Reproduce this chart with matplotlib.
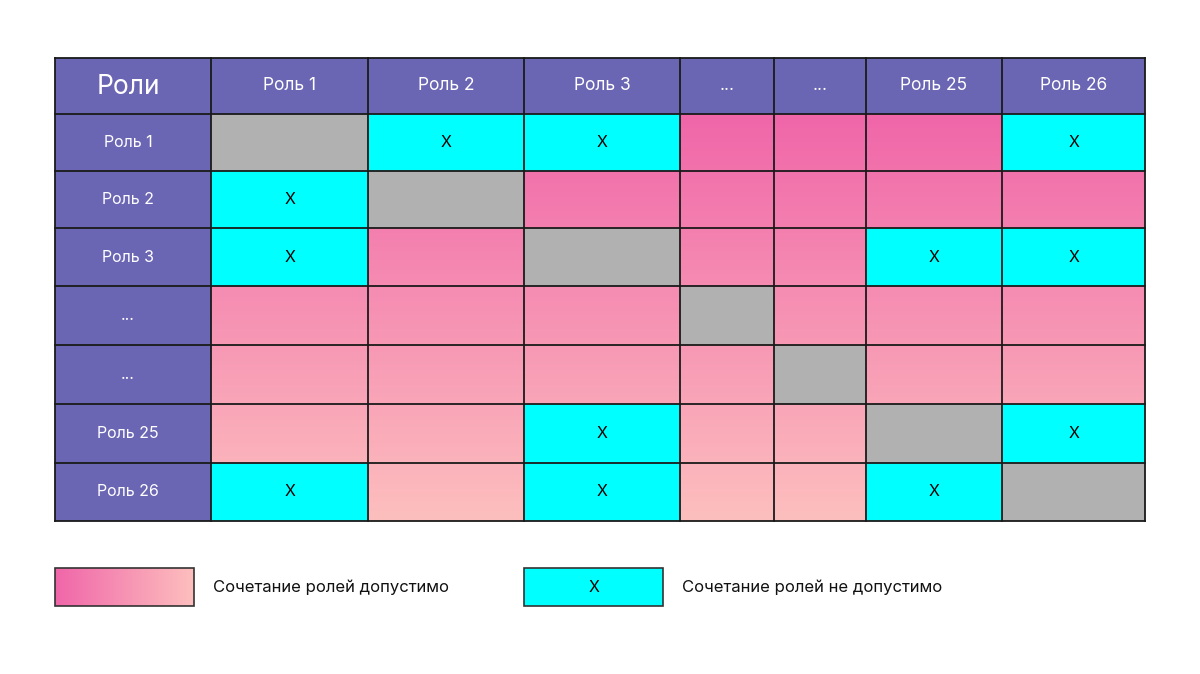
import numpy as np
import matplotlib.pyplot as plt
from matplotlib.colors import LinearSegmentedColormap
from matplotlib.patches import Rectangle

# --- data ---
corner_label = 'Роли'
roles = ['Роль 1', 'Роль 2', 'Роль 3', '...', '...', 'Роль 25', 'Роль 26']
# 0 = allowed (gradient), 1 = not allowed (X), 2 = same role (gray)
matrix = [
    [2, 1, 1, 0, 0, 0, 1],
    [1, 2, 0, 0, 0, 0, 0],
    [1, 0, 2, 0, 0, 1, 1],
    [0, 0, 0, 2, 0, 0, 0],
    [0, 0, 0, 0, 2, 0, 0],
    [0, 0, 1, 0, 0, 2, 1],
    [1, 0, 1, 0, 0, 1, 2],
]
legend_ok = 'Сочетание ролей допустимо'
legend_no = 'Сочетание ролей не допустимо'

# --- layout (pixels) ---
col_edges = [55, 211, 368, 524, 680, 774, 866, 1002, 1145]
row_edges = [58, 114, 171, 228, 286, 345, 404, 463, 521]
first_col_x = 128  # labels in the first column sit a bit left of centre

purple = '#6b66b3'
cyan = '#00ffff'
gray = '#b1b1b1'
pink = LinearSegmentedColormap.from_list('pink', ['#f066a9', '#fdbfbe'])

plt.rcParams['font.family'] = ['Inter', 'DejaVu Sans']

fig = plt.figure(figsize=(12, 6.74), dpi=100)
ax = fig.add_axes([0, 0, 1, 1])
ax.set_xlim(0, 1200)
ax.set_ylim(674, 0)
ax.axis('off')

# gradient for the body of the table
grad = np.linspace(0, 1, 256).reshape(-1, 1)
ax.imshow(grad, cmap=pink, aspect='auto', zorder=1,
          extent=[col_edges[1], col_edges[-1], row_edges[-1], row_edges[1]])

# header row and column
for j in range(len(col_edges) - 1):
    x0, x1 = col_edges[j], col_edges[j + 1]
    ax.add_patch(Rectangle((x0, row_edges[0]), x1 - x0, row_edges[1] - row_edges[0],
                           facecolor=purple, edgecolor='none', zorder=2))
    if j == 0:
        ax.text(first_col_x, (row_edges[0] + row_edges[1]) / 2 + 1, corner_label,
                color='white', ha='center', va='center', fontsize=19, zorder=4)
    else:
        ax.text((x0 + x1) / 2, (row_edges[0] + row_edges[1]) / 2, roles[j - 1],
                color='white', ha='center', va='center', fontsize=12.5, zorder=4)

for i, role in enumerate(roles):
    y0, y1 = row_edges[i + 1], row_edges[i + 2]
    ax.add_patch(Rectangle((col_edges[0], y0), col_edges[1] - col_edges[0], y1 - y0,
                           facecolor=purple, edgecolor='none', zorder=2))
    ax.text(first_col_x, (y0 + y1) / 2, role,
            color='white', ha='center', va='center', fontsize=11.5, zorder=4)
    for j, v in enumerate(matrix[i]):
        x0, x1 = col_edges[j + 1], col_edges[j + 2]
        if v == 0:
            continue
        ax.add_patch(Rectangle((x0, y0), x1 - x0, y1 - y0,
                               facecolor=cyan if v == 1 else gray,
                               edgecolor='none', zorder=2))
        if v == 1:
            ax.text((x0 + x1) / 2, (y0 + y1) / 2, 'X', color='black',
                    ha='center', va='center', fontsize=11.5, zorder=4)

# grid lines
for x in col_edges:
    ax.plot([x, x], [row_edges[0], row_edges[-1]], color='#1a1a1a', lw=1.3, zorder=3)
for y in row_edges:
    ax.plot([col_edges[0], col_edges[-1]], [y, y], color='#1a1a1a', lw=1.3, zorder=3)

# legend
ax.imshow(np.linspace(0, 1, 256).reshape(1, -1), cmap=pink, aspect='auto', zorder=1,
          extent=[55, 194, 606, 568])
ax.add_patch(Rectangle((55, 568), 139, 38, facecolor='none', edgecolor='#333333',
                       lw=1.2, zorder=3))
ax.text(213, 587, legend_ok, ha='left', va='center', fontsize=12, color='#111111')

ax.add_patch(Rectangle((524, 568), 139, 38, facecolor=cyan, edgecolor='#333333',
                       lw=1.2, zorder=3))
ax.text(593.5, 587, 'X', ha='center', va='center', fontsize=11.5, color='black', zorder=4)
ax.text(682, 587, legend_no, ha='left', va='center', fontsize=12, color='#111111')

fig.savefig('out.png', dpi=100)
